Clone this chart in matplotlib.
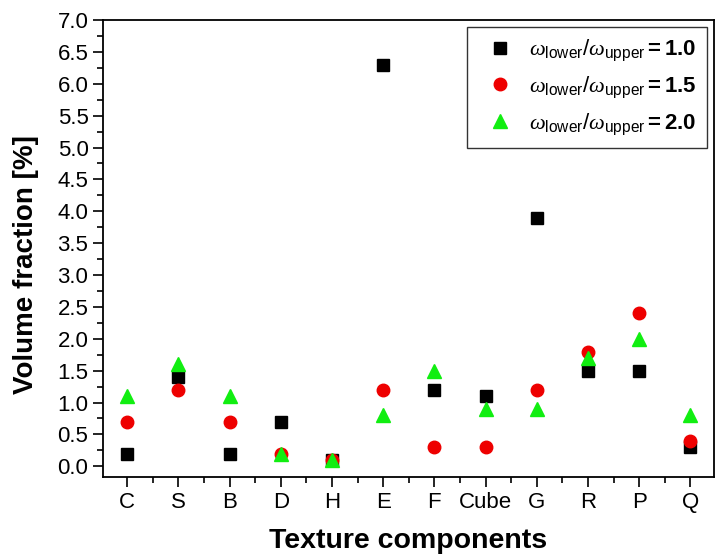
import matplotlib.pyplot as plt
import numpy as np
from matplotlib.ticker import MultipleLocator

plt.rcParams['font.family'] = 'Liberation Sans'
plt.rcParams['mathtext.fontset'] = 'custom'
plt.rcParams['mathtext.rm'] = 'Liberation Sans'
plt.rcParams['mathtext.it'] = 'Liberation Serif:italic'
plt.rcParams['mathtext.bf'] = 'Liberation Sans:bold'

# Data
components = ['C', 'S', 'B', 'D', 'H', 'E', 'F', 'Cube', 'G', 'R', 'P', 'Q']
ratio_10 = [0.2, 1.4, 0.2, 0.7, 0.1, 6.3, 1.2, 1.1, 3.9, 1.5, 1.5, 0.3]
ratio_15 = [0.7, 1.2, 0.7, 0.2, 0.1, 1.2, 0.3, 0.3, 1.2, 1.8, 2.4, 0.4]
ratio_20 = [1.1, 1.6, 1.1, 0.2, 0.1, 0.8, 1.5, 0.9, 0.9, 1.7, 2.0, 0.8]
ratio_labels = ['1.0', '1.5', '2.0']

x = np.arange(1, len(components) + 1)

fig = plt.figure(figsize=(7.17, 5.58), dpi=100)
ax = fig.add_axes([0.1437, 0.145, 0.852, 0.819])

def lab(r):
    return r'$\omega_{\mathrm{lower}}/\omega_{\mathrm{upper}}$' + r'$\mathbf{=' + r + '}$'

ax.plot(x, ratio_10, 's', color='black', markersize=8, label=lab(ratio_labels[0]))
ax.plot(x, ratio_15, 'o', color='#ee0000', markersize=9, label=lab(ratio_labels[1]))
ax.plot(x, ratio_20, '^', color='#11ee11', markersize=10, label=lab(ratio_labels[2]))

ax.set_xlim(0.53, 12.46)
ax.set_ylim(-0.17, 7.0)
ax.set_xticks(x)
ax.set_xticklabels(components)
ax.xaxis.set_minor_locator(MultipleLocator(0.5))
ax.yaxis.set_major_locator(MultipleLocator(0.5))
ax.yaxis.set_minor_locator(MultipleLocator(0.25))
ax.tick_params(which='major', direction='out', length=7, width=1.2, labelsize=16)
ax.tick_params(which='minor', direction='out', length=4, width=1.2)
ax.tick_params(axis='x', which='minor', top=False)
for s in ax.spines.values():
    s.set_linewidth(1.3)

ax.set_xlabel('Texture components', fontsize=20.5, fontweight='bold', labelpad=11)
ax.set_ylabel('Volume fraction [%]', fontsize=20, fontweight='bold')
ax.yaxis.set_label_coords(-0.105, 0.464)

leg = ax.legend(loc='upper right', fontsize=16, frameon=True, fancybox=False,
                edgecolor='black', borderaxespad=0.3, handletextpad=0.3,
                labelspacing=0.5, borderpad=0.5)
leg.get_frame().set_linewidth(1.0)

fig.savefig('out.png', dpi=100)
